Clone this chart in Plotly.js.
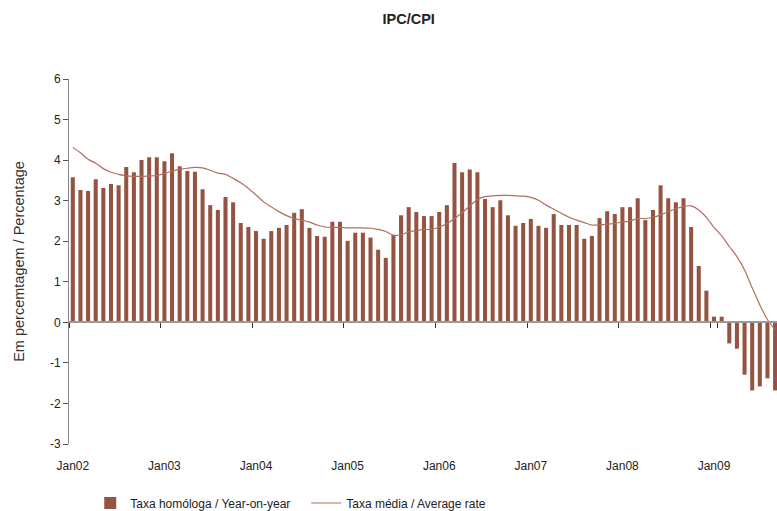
<!DOCTYPE html>
<html>
<head>
<meta charset="utf-8">
<script src="https://cdn.plot.ly/plotly-3.0.1.min.js"></script>
<style>html,body{margin:0;padding:0;background:#fff;}#chart{width:777px;height:511px;}</style>
</head>
<body>
<div id="chart"></div>
<script>
const categories = [
 "Jan02","Feb02","Mar02","Apr02","May02","Jun02","Jul02","Aug02","Sep02","Oct02","Nov02","Dec02",
 "Jan03","Feb03","Mar03","Apr03","May03","Jun03","Jul03","Aug03","Sep03","Oct03","Nov03","Dec03",
 "Jan04","Feb04","Mar04","Apr04","May04","Jun04","Jul04","Aug04","Sep04","Oct04","Nov04","Dec04",
 "Jan05","Feb05","Mar05","Apr05","May05","Jun05","Jul05","Aug05","Sep05","Oct05","Nov05","Dec05",
 "Jan06","Feb06","Mar06","Apr06","May06","Jun06","Jul06","Aug06","Sep06","Oct06","Nov06","Dec06",
 "Jan07","Feb07","Mar07","Apr07","May07","Jun07","Jul07","Aug07","Sep07","Oct07","Nov07","Dec07",
 "Jan08","Feb08","Mar08","Apr08","May08","Jun08","Jul08","Aug08","Sep08","Oct08","Nov08","Dec08",
 "Jan09","Feb09","Mar09","Apr09","May09","Jun09","Jul09","Aug09","Sep09"
];
const tickLabels = ["Jan02","Jan03","Jan04","Jan05","Jan06","Jan07","Jan08","Jan09"];
const yTickValues = [-3, -2, -1, 0, 1, 2, 3, 4, 5, 6];
const yTickText = ["-3", "-2", "-1", "0", "1", "2", "3", "4", "5", "6"];

const yearOnYear = [
 3.58, 3.26, 3.24, 3.53, 3.31, 3.41, 3.38, 3.83, 3.70, 4.00, 4.07, 4.07,
 3.97, 4.17, 3.85, 3.73, 3.71, 3.28, 2.89, 2.77, 3.09, 2.96, 2.45, 2.35,
 2.25, 2.06, 2.25, 2.33, 2.40, 2.70, 2.79, 2.33, 2.13, 2.11, 2.48, 2.48,
 2.01, 2.21, 2.21, 2.09, 1.79, 1.59, 2.15, 2.64, 2.84, 2.72, 2.62, 2.62,
 2.72, 2.89, 3.93, 3.70, 3.77, 3.70, 3.04, 2.84, 3.01, 2.64, 2.38, 2.45,
 2.55, 2.38, 2.33, 2.67, 2.40, 2.40, 2.40, 2.06, 2.13, 2.57, 2.74, 2.67,
 2.84, 2.84, 3.06, 2.52, 2.77, 3.38, 3.06, 2.96, 3.06, 2.35, 1.39, 0.78,
 0.14, 0.14, -0.52, -0.65, -1.29, -1.68, -1.58, -1.38, -1.68
];
const averageRate = [
 4.31, 4.18, 4.02, 3.92, 3.79, 3.70, 3.65, 3.61, 3.60, 3.60, 3.61, 3.62,
 3.67, 3.73, 3.77, 3.80, 3.82, 3.81, 3.75, 3.68, 3.65, 3.55, 3.44, 3.30,
 3.14, 2.97, 2.85, 2.73, 2.63, 2.56, 2.52, 2.47, 2.40, 2.35, 2.34, 2.34,
 2.33, 2.33, 2.33, 2.32, 2.29, 2.24, 2.15, 2.16, 2.23, 2.26, 2.29, 2.29,
 2.35, 2.43, 2.56, 2.70, 2.87, 3.03, 3.10, 3.12, 3.13, 3.13, 3.12, 3.11,
 3.08, 3.01, 2.89, 2.79, 2.69, 2.59, 2.52, 2.46, 2.40, 2.40, 2.42, 2.44,
 2.47, 2.50, 2.56, 2.56, 2.59, 2.65, 2.73, 2.80, 2.86, 2.87, 2.77, 2.59,
 2.34, 2.13, 1.87, 1.62, 1.29, 0.85, 0.43, 0.07, -0.18
];

const FONT = "Liberation Sans, Arial, Helvetica, sans-serif";
const yMin = -3, yMax = 6;

const traces = [
  {
    type: "bar", name: "Taxa homóloga / Year-on-year",
    x: categories, y: yearOnYear,
    marker: {color: "#945441", line: {width: 0}},
    hoverinfo: "x+y"
  },
  {
    type: "scatter", mode: "lines", name: "Taxa média / Average rate",
    x: categories, y: averageRate,
    line: {color: "#B07060", width: 1.2, shape: "spline", smoothing: 0.6},
    hoverinfo: "x+y"
  }
];

const layout = {
  width: 777, height: 511,
  margin: {l: 69, r: 0, t: 79, b: 67, autoexpand: false},
  paper_bgcolor: "#ffffff", plot_bgcolor: "#ffffff",
  font: {family: FONT, size: 12, color: "#222"},
  bargap: 0.47,
  showlegend: true,
  title: {
    text: "<b>IPC/CPI</b>",
    font: {family: FONT, size: 14.5, color: "#222"},
    x: 0.526, xref: "container", xanchor: "center",
    y: 0.963, yref: "container", yanchor: "middle"
  },
  xaxis: {
    type: "category",
    categoryorder: "array", categoryarray: categories,
    range: [-0.5, 92.25],
    tickmode: "array", tickvals: tickLabels, ticktext: tickLabels,
    tickson: "boundaries", tickangle: 0,
    ticks: "outside", ticklen: 5, tickwidth: 1, tickcolor: "#333",
    showline: true, linecolor: "#9a9a9a", linewidth: 2,
    showgrid: false, zeroline: false,
    anchor: "free", position: (0 - yMin) / (yMax - yMin),
    ticklabelstandoff: 132,
    tickfont: {family: FONT, size: 12, color: "#222"},
    automargin: false, fixedrange: true
  },
  yaxis: {
    range: [yMin, yMax],
    tickmode: "array", tickvals: yTickValues, ticktext: yTickText,
    ticks: "outside", ticklen: 5, tickwidth: 1, tickcolor: "#555",
    showline: true, linecolor: "#888", linewidth: 1,
    showgrid: false, zeroline: false,
    tickfont: {family: FONT, size: 12, color: "#222"},
    title: {text: "Em percemtagem / Percentage", font: {family: FONT, size: 14.5, color: "#333"}, standoff: 21},
    automargin: false, fixedrange: true
  },
  legend: {
    orientation: "h",
    x: 0.03, xanchor: "left",
    y: -0.1616, yanchor: "middle",
    font: {family: FONT, size: 12, color: "#222"},
    entrywidth: 171, entrywidthmode: "pixels",
    bgcolor: "rgba(0,0,0,0)"
  }
};

Plotly.newPlot("chart", traces, layout, {displayModeBar: false, staticPlot: true});
</script>
</body>
</html>
